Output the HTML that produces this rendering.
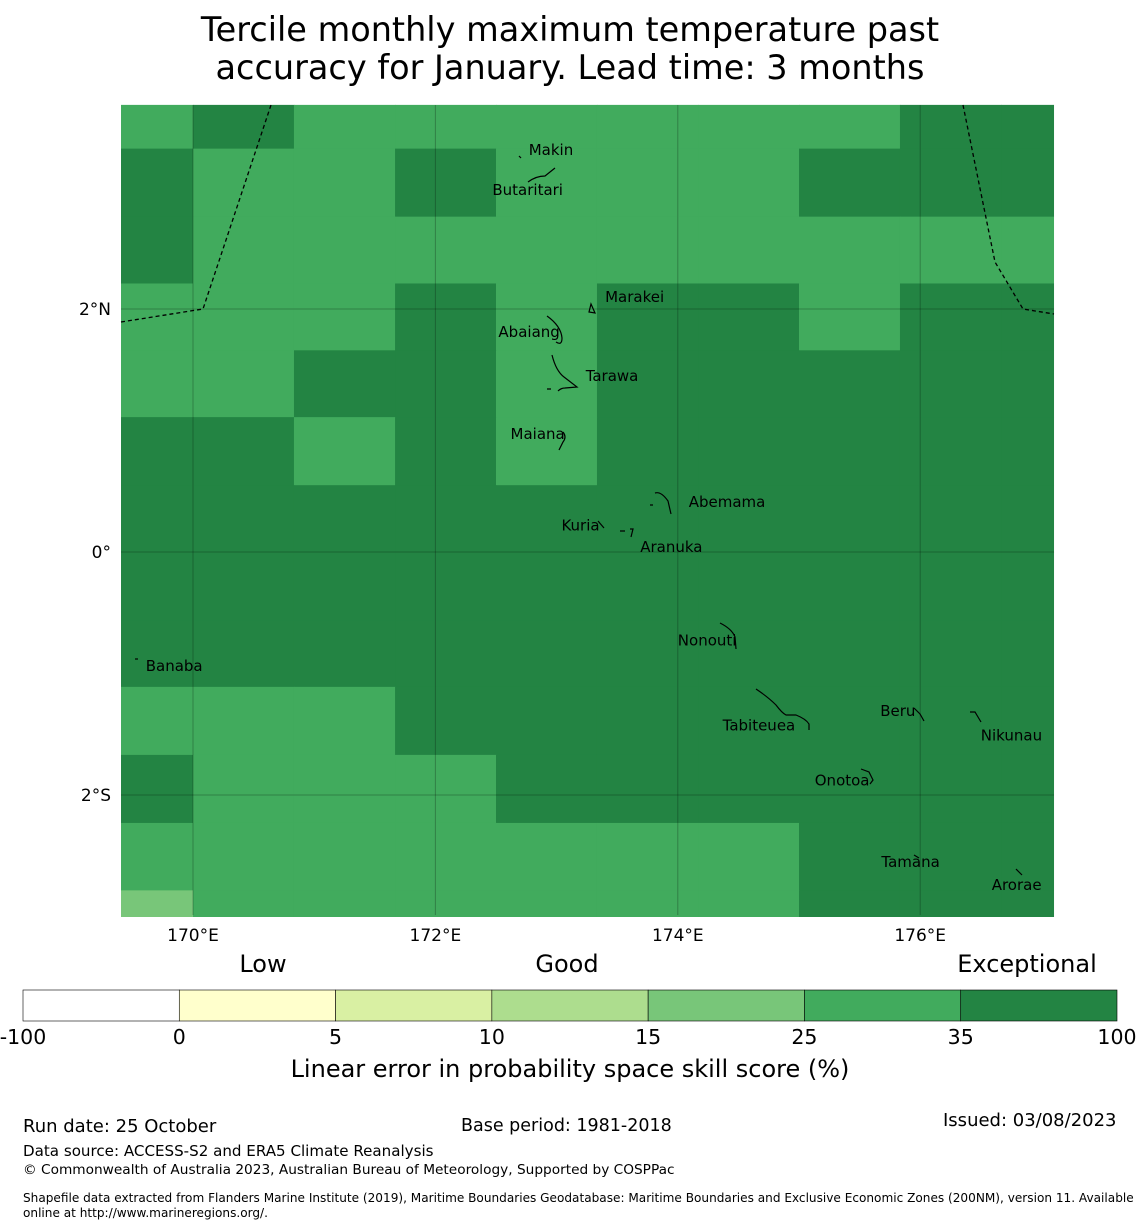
<!DOCTYPE html>
<html><head><meta charset="utf-8"><style>
body{margin:0;background:#fff;font-family:"Liberation Sans","DejaVu Sans",sans-serif;}
#wrap{position:relative;width:1140px;height:1230px;overflow:hidden;}
.t{position:absolute;white-space:nowrap;color:#000;}
</style></head><body>
<div id="wrap">
<div class="t" style="left:0;width:1140px;top:11px;text-align:center;font-size:33.5px;line-height:38px;font-family:'DejaVu Sans',sans-serif;">Tercile monthly maximum temperature past<br>accuracy for January. Lead time: 3 months</div>
<svg id="map" width="1140" height="1230" style="position:absolute;left:0;top:0" xmlns="http://www.w3.org/2000/svg"></svg>
<div class="t" style="left:23px;top:1116px;font-size:18px;font-family:'DejaVu Sans',sans-serif;">Run date: 25 October</div>
<div class="t" style="left:461px;top:1116px;font-size:17.5px;font-family:'DejaVu Sans',sans-serif;">Base period: 1981-2018</div>
<div class="t" style="left:943px;top:1110px;font-size:18px;font-family:'DejaVu Sans',sans-serif;">Issued: 03/08/2023</div>
<div class="t" style="left:23px;top:1142px;font-size:15.1px;font-family:'DejaVu Sans',sans-serif;">Data source: ACCESS-S2 and ERA5 Climate Reanalysis</div>
<div class="t" style="left:23px;top:1162px;font-size:13.7px;font-family:'DejaVu Sans',sans-serif;">© Commonwealth of Australia 2023, Australian Bureau of Meteorology, Supported by COSPPac</div>
<div class="t" style="left:23px;top:1191px;font-size:12.1px;line-height:15px;font-family:'DejaVu Sans',sans-serif;">Shapefile data extracted from Flanders Marine Institute (2019), Maritime Boundaries Geodatabase: Maritime Boundaries and Exclusive Economic Zones (200NM), version 11. Available<br>online at http://www.marineregions.org/.</div>
</div>
<script>
// Skill values per grid row (top to bottom), per column (left to right)
const row0=[30,40,30,30,30,30,30,30,40,40];
const row1=[40,30,30,40,30,30,30,40,40,40];
const row2=[40,30,30,30,30,30,30,30,30,30];
const row3=[30,30,30,40,30,40,40,30,40,40];
const row4=[30,30,40,40,30,40,40,40,40,40];
const row5=[40,40,30,40,30,40,40,40,40,40];
const row6=[40,40,40,40,40,40,40,40,40,40];
const row7=[40,40,40,40,40,40,40,40,40,40];
const row8=[40,40,40,40,40,40,40,40,40,40];
const row9=[30,30,30,40,40,40,40,40,40,40];
const row10=[40,30,30,30,40,40,40,40,40,40];
const row11=[30,30,30,30,30,30,30,40,40,40];
const row12=[20,30,30,30,30,30,30,40,40,40];
const gridRows=[row0,row1,row2,row3,row4,row5,row6,row7,row8,row9,row10,row11,row12];
const colEdgesLon=[169.406,170,170.833,171.667,172.5,173.333,174.167,175,175.833,176.667,177.1];
const rowEdgesLat=[3.68,3.32,2.76,2.21,1.66,1.11,0.55,0,-0.56,-1.11,-1.67,-2.23,-2.785,-3.0];
const bounds=[-100,0,5,10,15,25,35,100];
const binColors=['#ffffff','#ffffcc','#d9f0a3','#addd8e','#78c679','#41ab5d','#238443'];
const lonTicks=[170,172,174,176];
const latTicks=[2,0,-2];
const places=[["Makin",172.77,3.31],["Butaritari",172.47,2.98],["Marakei",173.40,2.1],["Abaiang",172.52,1.81],["Tarawa",173.24,1.45],["Maiana",172.62,0.97],["Abemama",174.09,0.41],["Kuria",173.04,0.22],["Aranuka",173.69,0.04],["Nonouti",174.0,-0.73],["Banaba",169.61,-0.94],["Tabiteuea",174.37,-1.43],["Beru",175.67,-1.31],["Nikunau",176.5,-1.51],["Onotoa",175.13,-1.88],["Tamana",175.68,-2.55],["Arorae",176.59,-2.74]];
const X=lon=>193+(lon-170)*121.2;
const Y=lat=>552-lat*121.5;
const NS='http://www.w3.org/2000/svg';
const svg=document.getElementById('map');
function mk(t,a){const e=document.createElementNS(NS,t);for(const k in a)e.setAttribute(k,a[k]);svg.appendChild(e);return e;}
function colorFor(v){for(let i=0;i<bounds.length-1;i++){if(v<bounds[i+1])return binColors[i];}return binColors[binColors.length-1];}
gridRows.forEach((r,ri)=>{r.forEach((v,ci)=>{
 const x0=X(colEdgesLon[ci]),x1=X(colEdgesLon[ci+1]),y0=Y(rowEdgesLat[ri]),y1=Y(rowEdgesLat[ri+1]);
 const e=mk('rect',{x:x0,y:y0,width:x1-x0+0.5,height:y1-y0+0.5,fill:colorFor(v)});
 
 
});});
lonTicks.forEach(l=>{const e=mk('line',{x1:X(l),x2:X(l),y1:105,y2:915,stroke:'#000','stroke-opacity':0.25,'stroke-width':1});
 
 const t=mk('text',{x:X(l),y:941,'font-size':17,'text-anchor':'middle','font-family':'DejaVu Sans,sans-serif'});t.textContent=l+'°E';
 });
latTicks.forEach(l=>{const e=mk('line',{x1:121,x2:1054,y1:Y(l),y2:Y(l),stroke:'#000','stroke-opacity':0.25,'stroke-width':1});
 
 const t=mk('text',{x:111,y:Y(l)+6,'font-size':17,'text-anchor':'end','font-family':'DejaVu Sans,sans-serif'});t.textContent=l===0?'0°':(Math.abs(l)+'°'+(l>0?'N':'S'));
 });
let e=mk('polyline',{points:'121,322 203,309 271,105',fill:'none',stroke:'#000','stroke-width':1.3,'stroke-dasharray':'4,3'});

e=mk('polyline',{points:'963,105 995,262 1023,309 1054,314',fill:'none',stroke:'#000','stroke-width':1.3,'stroke-dasharray':'4,3'});

const isl=['M519,156 l2,2','M528,182 q8,-6 17,-6 l10,-8','M589,312 l2,-8 l4,9 z','M547,316 q14,10 15,22 q0,8 -6,4','M552,355 q4,16 12,22 l13,10 l-12,1 q-4,0 -7,3 M547,389 h4','M563,432 q4,5 0,10 l-4,8','M650,505 h3 M655,493 q6,-2 13,8 l3,13','M598,521 l6,7 M620,531 h5 M630,529 h3 l-2,8','M720,623 q12,6 15,14 l1,12','M756,689 q12,8 20,16 q6,8 10,10 h10 q10,4 13,9 v6','M914,708 l6,6 l4,7','M970,712 h5 l6,10','M861,769 l8,3 l4,8 l-3,4','M914,855 l5,3','M1016,869 l6,6','M135,659 h3'];
isl.forEach(d=>{const p=mk('path',{d:d,fill:'none',stroke:'#000','stroke-width':1.2});
 });
places.forEach(p=>{const t=mk('text',{x:X(p[1]),y:Y(p[2])+5,'font-size':15,'font-family':'DejaVu Sans,sans-serif'});t.textContent=p[0];
 });
const cbX0=23,cbW=1094,seg=cbW/binColors.length;
binColors.forEach((c,i)=>{const r=mk('rect',{x:cbX0+i*seg,y:990,width:seg,height:31,fill:c,stroke:'#000','stroke-width':0.6});
 });
bounds.forEach((b,i)=>{const t=mk('text',{x:cbX0+i*seg,y:1044,'font-size':20.5,'text-anchor':'middle','font-family':'DejaVu Sans,sans-serif'});t.textContent=b;
 });
[['Low',263],['Good',567],['Exceptional',1027]].forEach(a=>{const t=mk('text',{x:a[1],y:972,'font-size':24,'text-anchor':'middle','font-family':'DejaVu Sans,sans-serif'});t.textContent=a[0];
 });
const ct=mk('text',{x:570,y:1077,'font-size':24,'text-anchor':'middle','font-family':'DejaVu Sans,sans-serif'});ct.textContent='Linear error in probability space skill score (%)';

</script>
</body></html>
